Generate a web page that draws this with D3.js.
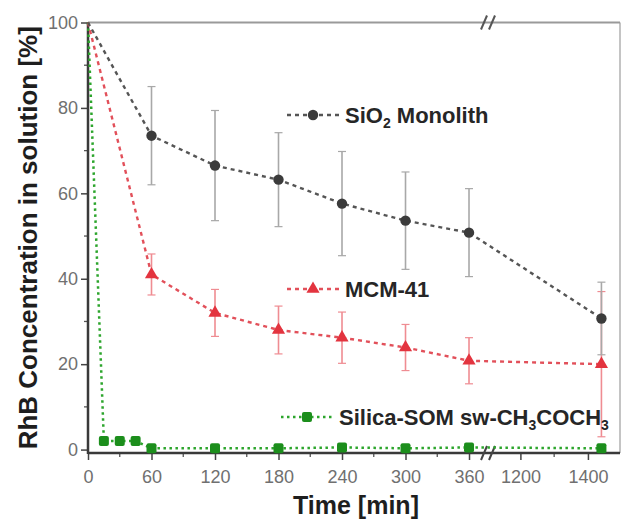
<!DOCTYPE html>
<html>
<head>
<meta charset="utf-8">
<script src="https://cdn.jsdelivr.net/npm/d3@7"></script>
<style>
    body { margin: 0; background: #fff; }
    svg { display: block; font-family: "Liberation Sans", Arial, sans-serif; }
</style>
</head>
<body>
<div id="chart"></div>
<script>
// ── Data ─────────────────────────────────────────────────────────────────────
const times = [0, 60, 120, 180, 240, 300, 360, 1440];
const sio2Values = [100, 73.5, 66.5, 63.2, 57.6, 53.6, 50.8, 30.7];
const sio2Errors = [0, 11.5, 12.9, 11, 12.2, 11.4, 10.3, 8.5];
const mcmValues = [100, 41, 32, 28, 26.2, 23.9, 20.8, 20];
const mcmErrors = [0, 4.8, 5.5, 5.6, 6, 5.4, 5.4, 17];
const somTimes = [0, 15, 30, 45, 60, 120, 180, 240, 300, 360, 1440];
const somValues = [100, 2, 2, 2, 0.3, 0.3, 0.3, 0.5, 0.3, 0.5, 0.3];

const xTicksMajor = [0, 60, 120, 180, 240, 300, 360, 1200, 1400];
const xTicksMinor = [30, 90, 150, 210, 270, 330, 1300];
const yTicksMajor = [0, 20, 40, 60, 80, 100];
const yTicksMinor = [10, 30, 50, 70, 90];

// ── Layout ───────────────────────────────────────────────────────────────────
const W = 622, H = 525;
const margin = { top: 22.5, right: 2, bottom: 72, left: 88 };
const innerW = W - margin.left - margin.right;
const innerH = H - margin.top - margin.bottom;
const breakX = 400;   // where the axis break sits (px inside plot)

const colors = {
    sio2: '#3b3b3b', sio2Line: '#555', sio2Err: '#a8a8a8',
    mcm: '#e3343f', mcmLine: '#e2505a', mcmErr: '#ef8c92',
    som: '#1c8e1c', somLine: '#2ca52c'
};

const svg = d3.select('#chart').append('svg')
    .attr('width', W)
    .attr('height', H);

const g = svg.append('g')
    .attr('transform', `translate(${margin.left},${margin.top})`);

// ── Scales ───────────────────────────────────────────────────────────────────
// broken axis: 0–377 on the left part, 1107–1495 on the right part
const xScale = d3.scaleLinear()
    .domain([0, 377, 1107, 1495])
    .range([0, breakX - 1, breakX + 1, innerW]);

const yScale = d3.scaleLinear()
    .domain([-0.8, 100])
    .range([innerH, 0]);

// ── Axes ─────────────────────────────────────────────────────────────────────
const xAxis = g.append('g')
    .attr('transform', `translate(0,${innerH})`)
    .call(d3.axisBottom(xScale).tickValues(xTicksMajor).tickSize(7).tickPadding(10).tickFormat(d3.format('d')));
xAxis.select('.domain').remove();
xAxis.selectAll('line').attr('stroke', '#444').attr('stroke-width', 1.5);
xAxis.selectAll('text').style('font-size', '18px').style('fill', '#707070');

g.append('g')
    .attr('transform', `translate(0,${innerH})`)
    .selectAll('line')
    .data(xTicksMinor)
    .join('line')
    .attr('x1', d => xScale(d)).attr('x2', d => xScale(d))
    .attr('y1', 0).attr('y2', 4)
    .attr('stroke', '#555').attr('stroke-width', 1.3);

const yAxis = g.append('g')
    .call(d3.axisLeft(yScale).tickValues(yTicksMajor).tickSize(7).tickPadding(3));
yAxis.select('.domain').remove();
yAxis.selectAll('line').attr('stroke', '#444').attr('stroke-width', 1.5);
yAxis.selectAll('text').style('font-size', '18px').style('fill', '#707070');

g.append('g')
    .selectAll('line')
    .data(yTicksMinor)
    .join('line')
    .attr('x1', -4).attr('x2', 0)
    .attr('y1', d => yScale(d)).attr('y2', d => yScale(d))
    .attr('stroke', '#555').attr('stroke-width', 1.3);

// frame: dark left/bottom, light top/right
g.append('line').attr('x1', innerW).attr('x2', innerW).attr('y1', 0).attr('y2', innerH)
    .attr('stroke', '#b0b0b0').attr('stroke-width', 1.5);
g.append('line').attr('x1', 0).attr('x2', innerW).attr('y1', 0).attr('y2', 0)
    .attr('stroke', '#9a9a9a').attr('stroke-width', 2.2);
g.append('line').attr('x1', 0).attr('x2', innerW).attr('y1', innerH).attr('y2', innerH)
    .attr('stroke', '#3a3a3a').attr('stroke-width', 2.5);
g.append('line').attr('x1', 0).attr('x2', 0).attr('y1', 0).attr('y2', innerH + 1)
    .attr('stroke', '#3a3a3a').attr('stroke-width', 2.5);

// axis break marks "//"
[0, innerH].forEach((yy, i) => {
    [-4, 4].forEach(dx => {
        g.append('line')
            .attr('x1', breakX + dx - 3).attr('y1', yy + 7)
            .attr('x2', breakX + dx + 3).attr('y2', yy - 7)
            .attr('stroke', i === 0 ? '#555' : '#444')
            .attr('stroke-width', 2);
    });
});

// ── Axis titles ──────────────────────────────────────────────────────────────
svg.append('text')
    .attr('transform', `translate(37,${margin.top + innerH / 2}) rotate(-90)`)
    .attr('text-anchor', 'middle')
    .style('font-size', '26px')
    .style('font-weight', '700')
    .style('fill', '#1e1e1e')
    .text('RhB Concentration in solution [%]');

svg.append('text')
    .attr('x', 356)
    .attr('y', 514)
    .attr('text-anchor', 'middle')
    .style('font-size', '25px')
    .style('font-weight', '700')
    .style('fill', '#1e1e1e')
    .text('Time [min]');

// ── Series ───────────────────────────────────────────────────────────────────
const sio2Data = times.map((t, i) => ({ t, v: sio2Values[i], e: sio2Errors[i] }));
const mcmData = times.map((t, i) => ({ t, v: mcmValues[i], e: mcmErrors[i] }));
const somData = somTimes.map((t, i) => ({ t, v: somValues[i] }));

const line = d3.line().x(d => xScale(d.t)).y(d => yScale(d.v));

function errorBars(data, color) {
    const eg = g.append('g');
    const d2 = data.filter(d => d.e > 0);
    eg.selectAll('.stem').data(d2).join('line')
        .attr('x1', d => xScale(d.t)).attr('x2', d => xScale(d.t))
        .attr('y1', d => yScale(d.v - d.e)).attr('y2', d => yScale(d.v + d.e))
        .attr('stroke', color).attr('stroke-width', 1.6);
    ['lo', 'hi'].forEach(side => {
        eg.selectAll('.cap-' + side).data(d2).join('line')
            .attr('x1', d => xScale(d.t) - 4).attr('x2', d => xScale(d.t) + 4)
            .attr('y1', d => yScale(side === 'lo' ? d.v - d.e : d.v + d.e))
            .attr('y2', d => yScale(side === 'lo' ? d.v - d.e : d.v + d.e))
            .attr('stroke', color).attr('stroke-width', 1.2);
    });
}

errorBars(mcmData, colors.mcmErr);
errorBars(sio2Data, colors.sio2Err);

g.append('path').datum(somData).attr('d', line)
    .attr('fill', 'none').attr('stroke', colors.somLine)
    .attr('stroke-width', 2.5).attr('stroke-dasharray', '2.5,3.5');
g.append('path').datum(mcmData).attr('d', line)
    .attr('fill', 'none').attr('stroke', colors.mcmLine)
    .attr('stroke-width', 2.4).attr('stroke-dasharray', '4,4');
g.append('path').datum(sio2Data).attr('d', line)
    .attr('fill', 'none').attr('stroke', colors.sio2Line)
    .attr('stroke-width', 2.4).attr('stroke-dasharray', '4,4');

const triangle = d3.symbol().type(d3.symbolTriangle).size(75);

function drawMarker(sel, kind) {
    if (kind === 'sio2') {
        sel.append('circle').attr('r', 5.2).attr('fill', colors.sio2);
    } else if (kind === 'mcm') {
        sel.append('path').attr('d', triangle).attr('fill', colors.mcm);
    } else {
        sel.append('rect').attr('x', -5).attr('y', -5).attr('width', 10).attr('height', 10)
            .attr('rx', 2).attr('fill', colors.som);
    }
}

[[somData, 'som'], [mcmData, 'mcm'], [sio2Data, 'sio2']].forEach(([data, kind]) => {
    g.append('g').selectAll('g')
        .data(data.filter(d => d.t > 0))
        .join('g')
        .attr('transform', d => `translate(${xScale(d.t)},${yScale(d.v)})`)
        .each(function () { drawMarker(d3.select(this), kind); });
});

// ── Legend (three separate labels inside the plot) ───────────────────────────
const legendItems = [
    { kind: 'sio2', x: 287, y: 115, parts: [['SiO', false], ['2', true], [' Monolith', false]] },
    { kind: 'mcm', x: 287, y: 289, parts: [['MCM-41', false]] },
    { kind: 'som', x: 281, y: 417, parts: [['Silica-SOM sw-CH', false], ['3', true], ['COCH', false], ['3', true]] }
];

legendItems.forEach(item => {
    const lg = svg.append('g').attr('transform', `translate(${item.x},${item.y})`);
    const lineColor = item.kind === 'sio2' ? colors.sio2Line : item.kind === 'mcm' ? colors.mcmLine : colors.somLine;
    lg.append('line').attr('x1', 0).attr('x2', 53).attr('y1', 0).attr('y2', 0)
        .attr('stroke', lineColor).attr('stroke-width', 2.4)
        .attr('stroke-dasharray', item.kind === 'som' ? '2.5,3.5' : '4,4');
    drawMarker(lg.append('g').attr('transform', 'translate(26,0)'), item.kind);
    const txt = lg.append('text')
        .attr('x', 58).attr('y', 8)
        .style('font-size', '22px')
        .style('font-weight', '700')
        .style('fill', '#262626');
    let shift = 0;
    item.parts.forEach(([s, sub]) => {
        const target = sub ? 5 : 0;
        txt.append('tspan')
            .attr('dy', target - shift)
            .style('font-size', sub ? '14px' : '22px')
            .text(s);
        shift = target;
    });
});
</script>
</body>
</html>
